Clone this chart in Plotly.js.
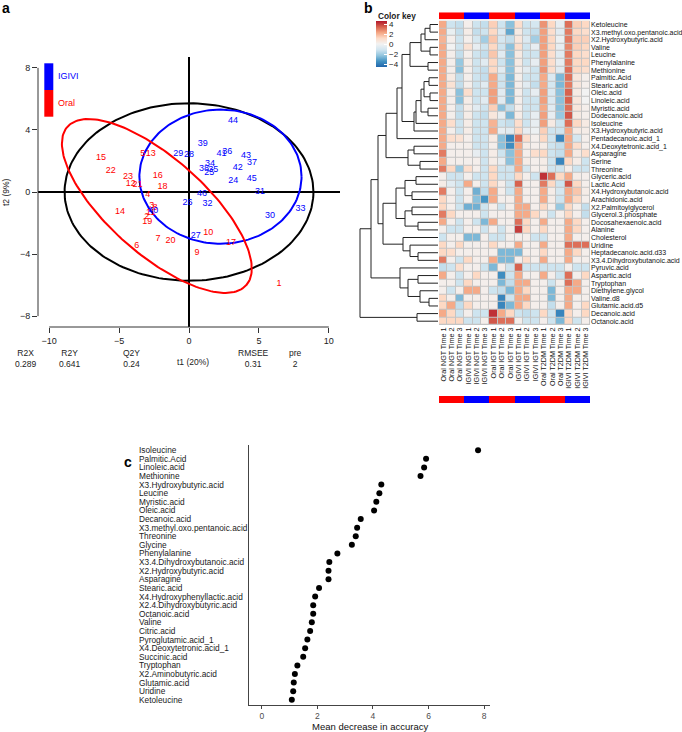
<!DOCTYPE html>
<html>
<head>
<meta charset="utf-8">
<script src="https://cdn.plot.ly/plotly-3.0.1.min.js"></script>
<style>html,body{margin:0;padding:0;background:#fff}#plot{width:682px;height:732px}</style>
</head>
<body>
<div id="plot"></div>
<script>
// ---------- Panel a data ----------
const igiviLabels = ['24','25','26','27','28','29','30','31','32','33','34','35','36','37','38','39','40','41','42','43','44','45','46'];
const igiviT1 = [3.17,1.45,-0.10,0.48,0.00,-0.76,5.79,5.07,1.33,7.98,1.50,1.74,2.74,4.50,1.07,0.98,-2.55,2.33,3.48,4.07,3.14,4.48,0.93];
const igiviT2 = [0.73,1.23,-0.71,-2.80,2.40,2.47,-1.50,0.04,-0.73,-1.08,1.83,1.44,2.58,1.89,1.50,3.10,-1.20,2.47,1.57,2.34,4.60,0.86,-0.09];
const oralLabels = ['1','2','3','4','5','6','7','8','9','10','11','12','13','14','15','16','17','18','19','20','21','22','23'];
const oralT1 = [6.43,-3.02,-2.66,-2.95,-3.31,-3.74,-2.21,-2.43,0.57,1.38,-2.74,-4.17,-2.74,-4.93,-6.29,-2.24,3.00,-1.90,-2.98,-1.33,-3.69,-5.60,-4.36];
const oralT2 = [-5.92,-1.61,-0.88,-0.17,2.47,-3.46,-3.01,-1.03,-3.90,-2.60,-1.35,0.52,2.47,-1.29,2.19,1.07,-3.25,0.32,-1.94,-3.14,0.44,1.39,0.99];
// ellipses: centre and semi-axis vectors (all groups, IGIVI, Oral)
const ellName = ['all','IGIVI','Oral'];
const ellCx = [0, 2.25, -2.30];
const ellCy = [0, 0.99, -0.90];
const ellUx = [8.9, 5.8, 6.40];
const ellUy = [0, 0, -5.10];
const ellVx = [0, 0, -2.27];
const ellVy = [5.72, 4.32, -2.32];
const ellColor = ['#000000','#0000ff','#ff0000'];
const statNames = ['R2X','R2Y','Q2Y','RMSEE','pre'];
const statValues = ['0.289','0.641','0.24','0.31','2'];

// ---------- Panel b data ----------
const rowNames = ['Ketoleucine','X3.methyl.oxo.pentanoic.acid','X2.Hydroxybutyric.acid','Valine','Leucine','Phenylalanine','Methionine','Palmitic.Acid','Stearic.acid','Oleic.acid','Linoleic.acid','Myristic.acid','Dodecanoic.acid','Isoleucine','X3.Hydroxybutyric.acid','Pentadecanoic.acid_1','X4.Deoxytetronic.acid_1','Asparagine','Serine','Threonine','Glyceric.acid','Lactic.Acid','X4.Hydroxybutanoic.acid','Arachidonic.acid','X2.Palmitoylglycerol','Glycerol.3.phosphate','Docosahexaenoic.acid','Alanine','Cholesterol','Uridine','Heptadecanoic.acid.d33','X3.4.Dihydroxybutanoic.acid','Pyruvic.acid','Aspartic.acid','Tryptophan','Diethylene.glycol','Valine.d8','Glutamic.acid.d5','Decanoic.acid','Octanoic.acid'];
const colNames = ['Oral NGT Time 1','Oral NGT Time 2','Oral NGT Time 3','IGIVI NGT Time 1','IGIVI NGT Time 2','IGIVI NGT Time 3','Oral IGT Time 1','Oral IGT Time 2','Oral IGT Time 3','IGIVI IGT Time 1','IGIVI IGT Time 2','IGIVI IGT Time 3','Oral T2DM Time 1','Oral T2DM Time 2','Oral T2DM Time 3','IGIVI T2DM Time 1','IGIVI T2DM Time 2','IGIVI T2DM Time 3'];
const colGroup = ['Oral','Oral','Oral','IGIVI','IGIVI','IGIVI','Oral','Oral','Oral','IGIVI','IGIVI','IGIVI','Oral','Oral','Oral','IGIVI','IGIVI','IGIVI'];
const zValues = [
[2.2,-1.2,-1.4,0.2,-1.2,-1.4,1.4,-1.2,-2.4,1.0,-1.2,-1.0,2.6,1.2,-0.4,3.2,1.4,1.2],
[2.2,-0.3,-1.4,0.3,-1.4,-1.2,1.2,-0.8,-3.0,0.4,-1.2,-1.4,2.4,1.0,-0.6,3.0,1.2,1.0],
[2.0,0.2,-1.2,0.2,-1.0,-2.0,1.6,-1.0,-1.4,0.6,-0.8,-2.0,2.4,1.2,-0.2,3.0,1.4,1.4],
[2.2,0.0,-1.2,0.8,-0.4,-1.2,1.2,-1.2,-2.4,1.0,-1.2,-0.4,2.4,1.2,-0.4,2.8,1.4,1.2],
[2.2,0.2,-1.4,0.2,-1.2,-1.4,1.6,-0.6,-2.4,0.4,-1.2,-1.2,2.4,1.0,-0.6,3.0,1.2,1.0],
[2.2,0.2,-2.2,0.3,-1.2,-0.6,1.2,-1.2,-2.4,0.4,-1.2,-0.4,2.4,1.0,-0.4,3.0,1.2,1.2],
[2.2,0.2,-2.4,0.2,-1.2,-1.4,1.2,-0.6,-2.4,0.2,-0.6,-1.2,2.6,1.0,-0.6,3.2,1.2,1.0],
[2.2,0.4,-1.4,0.2,-1.2,-1.4,2.2,-1.2,-2.6,0.2,-1.2,-1.2,2.2,-0.8,-2.6,3.2,0.6,0.2],
[2.2,0.8,-1.4,0.2,-1.2,-0.6,2.2,-1.2,-2.6,0.2,-0.6,-1.4,2.2,-1.0,-2.6,3.0,0.6,0.2],
[2.2,0.2,-2.4,1.0,-1.2,-1.2,2.4,-0.6,-2.6,0.2,-1.2,-0.4,2.4,-0.8,-2.4,3.4,0.4,0.0],
[2.2,0.2,-2.4,0.3,-1.2,-0.6,2.4,-0.6,-2.6,0.2,-1.2,-1.2,2.4,-0.8,-2.4,3.4,0.6,0.0],
[2.2,0.2,-1.4,0.3,-0.6,-1.2,1.4,-2.4,-1.4,0.2,-1.2,-1.2,2.2,-0.6,-2.4,3.2,0.6,0.2],
[2.2,0.2,-1.4,0.3,-1.2,-1.4,0.6,-0.4,-2.6,0.3,-1.2,-0.4,2.4,-0.4,-2.2,3.6,0.4,0.2],
[2.2,1.0,-1.2,0.3,-1.2,-1.2,2.0,-1.2,-1.4,1.0,-1.2,-0.4,2.4,0.4,-1.2,3.2,1.2,0.4],
[2.2,0.2,-1.2,0.3,-1.2,-1.2,2.2,-0.4,-0.6,1.2,-0.4,-0.2,1.4,-1.2,-1.2,2.2,0.4,0.3],
[2.2,1.0,0.8,0.2,-1.2,-1.2,0.4,-2.4,-3.8,3.2,1.0,0.2,1.2,-1.2,-3.8,2.2,-1.0,0.2],
[2.2,0.2,0.2,0.2,-1.2,-1.2,0.2,-2.4,-3.6,2.2,0.3,0.2,0.3,-1.2,-1.4,2.2,1.0,0.2],
[3.0,0.2,0.2,0.2,-0.4,-1.2,0.3,-1.2,-2.4,2.2,0.2,1.0,1.2,-1.2,-1.4,2.2,0.4,1.0],
[2.2,0.2,0.2,0.2,0.2,-1.2,0.3,-0.4,-2.4,2.2,0.3,0.2,0.3,-1.2,-3.8,1.2,0.3,-1.2],
[3.0,1.2,-2.2,1.0,0.2,-1.2,1.2,-1.2,-1.2,2.2,-1.0,0.2,0.3,-1.2,-1.2,0.3,-1.2,-1.2],
[0.2,-1.2,-1.2,0.2,-1.2,-1.2,1.2,-1.2,-1.2,1.2,0.2,-1.2,4.2,3.2,1.2,2.2,0.3,0.2],
[0.3,-0.6,-1.2,2.2,0.2,-1.2,1.2,0.2,-1.2,3.4,0.2,0.2,3.0,1.2,-1.2,3.6,1.2,0.2],
[3.0,0.2,-1.2,0.2,-2.8,-1.4,2.2,0.2,-1.2,2.2,0.2,0.2,2.2,0.3,-1.0,2.2,1.6,0.3],
[1.2,0.2,-1.2,0.2,-2.4,-3.4,2.2,0.2,0.2,2.2,0.2,0.2,2.2,0.3,-1.2,2.2,1.2,0.2],
[1.2,0.2,-1.2,-2.8,-2.8,-1.2,0.2,-1.2,0.2,2.2,2.2,0.2,1.2,0.2,-2.2,1.2,0.2,-1.4],
[3.0,1.2,0.2,0.2,0.2,-1.2,0.2,0.2,0.2,2.2,2.2,1.2,0.3,-1.2,0.2,1.2,0.2,-1.4],
[2.2,0.2,-1.2,0.2,-1.2,-2.6,2.2,0.2,0.2,3.2,1.2,0.2,2.2,0.2,0.2,2.2,1.2,0.2],
[0.2,-1.2,-1.2,0.2,0.2,-1.2,0.2,-1.2,0.2,4.0,1.2,0.2,1.2,0.2,0.2,2.2,1.2,0.2],
[-1.2,0.2,0.2,-2.6,-2.6,0.2,-1.2,-1.2,0.2,0.2,0.2,-1.2,-1.2,0.2,0.2,2.2,0.2,0.2],
[1.2,0.2,1.2,0.2,0.2,0.2,1.2,0.2,0.2,2.2,0.2,0.2,2.2,0.2,0.2,3.2,3.2,3.2],
[1.2,1.0,0.2,0.2,0.2,0.2,0.2,-2.6,-2.6,-2.6,0.2,0.2,1.2,0.2,0.2,2.2,1.2,0.2],
[3.0,0.2,-1.2,1.2,0.2,0.2,2.2,-2.6,-2.6,0.2,1.0,0.2,2.2,0.2,0.2,2.2,0.2,0.2],
[-1.4,-1.2,1.0,0.2,0.2,-1.2,-2.6,0.2,-1.2,3.4,-1.2,-1.2,-1.2,-1.2,-1.2,0.2,-1.2,-1.2],
[2.2,0.2,-1.2,0.2,1.2,0.2,0.2,-3.6,-1.2,2.2,0.2,0.2,2.2,0.2,-1.2,3.2,0.2,1.2],
[0.2,0.2,-1.2,1.2,0.2,0.2,0.2,-2.6,-1.4,2.2,2.2,0.2,0.2,-1.2,0.2,3.2,2.2,0.2],
[0.2,-1.2,0.2,2.2,2.2,0.2,-1.2,-1.4,-2.6,2.2,1.2,0.2,0.2,-2.6,0.2,2.2,2.2,0.2],
[1.2,0.2,-2.6,0.2,0.2,0.2,0.2,-3.8,-1.2,2.2,2.2,0.2,0.2,-2.6,0.2,2.2,0.2,0.2],
[1.2,2.2,-1.4,1.2,0.2,0.2,0.2,-3.8,-2.6,2.2,1.2,0.2,0.2,-1.4,0.2,2.2,0.2,1.2],
[2.2,1.2,-1.2,0.2,-1.2,-1.2,4.2,2.2,1.2,-1.2,-1.4,-1.2,1.2,-1.2,-3.8,1.2,0.2,1.2],
[1.2,1.2,1.2,-1.2,-1.2,0.2,3.6,3.2,3.2,0.2,-1.2,-1.2,0.2,-1.2,-2.6,1.2,-1.2,0.2]
];
// row dendrogram, hclust-style merges (negative = row, positive = earlier merge)
const mergeA = [-1,1,-4,2,-6,4,-8,-10,7,-12,9,11,12,6,14,-17,-19,16,15,-21,-23,20,-25,-27,23,22,-31,-30,-29,26,19,-34,-37,-36,32,-33,31,-39,37];
const mergeB = [-2,-3,-5,3,-7,5,-9,-11,8,-13,10,-14,-15,13,-16,-18,-20,17,18,-22,-24,21,-26,-28,24,25,-32,27,28,29,30,-35,-38,33,34,35,36,-40,38];
const mergeH = [8,13,8,17,10,28,9,8,14,10,17,22,24,36,41,24,18,30,52,22,26,33,26,20,33,42,20,28,35,55,60,20,9,18,30,38,67,21,78];

// ---------- Panel c data ----------
const rfNames = ['Isoleucine','Palmitic.Acid','Linoleic.acid','Methionine','X3.Hydroxybutyric.acid','Leucine','Myristic.acid','Oleic.acid','Decanoic.acid','X3.methyl.oxo.pentanoic.acid','Threonine','Glycine','Phenylalanine','X3.4.Dihydroxybutanoic.acid','X2.Hydroxybutyric.acid','Asparagine','Stearic.acid','X4.Hydroxyphenyllactic.acid','X2.4.Dihydroxybutyric.acid','Octanoic.acid','Valine','Citric.acid','Pyroglutamic.acid_1','X4.Deoxytetronic.acid_1','Succinic.acid','Tryptophan','X2.Aminobutyric.acid','Glutamic.acid','Uridine','Ketoleucine'];
const rfMDA = [7.78,5.91,5.84,5.71,4.30,4.23,4.12,4.04,3.56,3.43,3.38,3.24,2.72,2.43,2.40,2.40,2.06,1.92,1.85,1.85,1.80,1.74,1.64,1.56,1.49,1.28,1.19,1.15,1.13,1.08];

// ---------- layout helpers ----------
const W = 682, H = 732;
const px = x => x / W;
const py = y => 1 - y / H;
const FONT = 'Liberation Sans, Arial, sans-serif';

const traces = [];
const shapes = [];
const annotations = [];

// ===== Panel a =====
for (let k = 0; k < ellName.length; k++) {
  const xs = [], ys = [];
  for (let i = 0; i <= 180; i++) {
    const t = 2 * Math.PI * i / 180;
    xs.push(ellCx[k] + ellUx[k] * Math.cos(t) + ellVx[k] * Math.sin(t));
    ys.push(ellCy[k] + ellUy[k] * Math.cos(t) + ellVy[k] * Math.sin(t));
  }
  traces.push({type:'scatter', mode:'lines', x:xs, y:ys, xaxis:'x', yaxis:'y',
    line:{color:ellColor[k], width:2}, hoverinfo:'skip', showlegend:false});
}
traces.push({type:'scatter', mode:'text', x:oralT1, y:oralT2, text:oralLabels, xaxis:'x', yaxis:'y',
  textfont:{family:FONT, size:9, color:'#ff0000'}, cliponaxis:false, showlegend:false});
traces.push({type:'scatter', mode:'text', x:igiviT1, y:igiviT2, text:igiviLabels, xaxis:'x', yaxis:'y',
  textfont:{family:FONT, size:9, color:'#0000ff'}, cliponaxis:false, showlegend:false});

// R-style detached axis lines
shapes.push({type:'line', xref:'x', yref:'y domain', x0:-10, x1:10, y0:0, y1:0, line:{color:'#333', width:1}});
shapes.push({type:'line', xref:'x domain', yref:'y', x0:0, x1:0, y0:-8, y1:8, line:{color:'#333', width:1}});
// legend boxes
shapes.push({type:'rect', xref:'paper', yref:'paper', x0:px(44.3), x1:px(53.3), y0:py(90), y1:py(63.3), fillcolor:'#0000ff', line:{width:0}});
shapes.push({type:'rect', xref:'paper', yref:'paper', x0:px(44.3), x1:px(53.3), y0:py(116.7), y1:py(90), fillcolor:'#ff0000', line:{width:0}});
annotations.push({xref:'paper', yref:'paper', x:px(56), y:py(76), xanchor:'left', yanchor:'middle', showarrow:false,
  text:ellName[1], font:{family:FONT, size:9, color:'#0000ff'}});
annotations.push({xref:'paper', yref:'paper', x:px(56), y:py(103), xanchor:'left', yanchor:'middle', showarrow:false,
  text:ellName[2], font:{family:FONT, size:9, color:'#ff0000'}});
// bottom statistics
const statX = [26, 70, 131, 253, 295];
for (let i = 0; i < statNames.length; i++) {
  annotations.push({xref:'paper', yref:'paper', x:px(statX[i]), y:py(358), xanchor:'center', yanchor:'middle', showarrow:false,
    text:statNames[i] + '<br>' + statValues[i], font:{family:FONT, size:8.5, color:'#222'}});
}
annotations.push({xref:'paper', yref:'paper', x:px(193), y:py(362), xanchor:'center', yanchor:'middle', showarrow:false,
  text:'t1 (20%)', font:{family:FONT, size:8.5, color:'#222'}});
annotations.push({xref:'paper', yref:'paper', x:px(6), y:py(192), xanchor:'center', yanchor:'middle', showarrow:false, textangle:-90,
  text:'t2 (9%)', font:{family:FONT, size:8.5, color:'#222'}});

// ===== Panel b =====
const nR = rowNames.length, nC = colNames.length;
const rowIdx = rowNames.map((_, i) => i);
const colIdx = colNames.map((_, i) => i);
shapes.push({type:'rect', xref:'x2 domain', yref:'y2 domain', x0:0, x1:1, y0:0, y1:1, fillcolor:'#c4c4c4', line:{width:0}, layer:'below'});
traces.push({type:'heatmap', z:zValues, x:colIdx, y:rowIdx, xaxis:'x2', yaxis:'y2', xgap:1, ygap:1,
  zmin:-4.6, zmax:4.6,
  colorscale:[[0,'#2166AC'],[0.125,'#4393C3'],[0.25,'#92C5DE'],[0.375,'#D1E5F0'],[0.5,'#F2F2F2'],[0.625,'#FDDBC7'],[0.75,'#F4A582'],[0.875,'#D6604D'],[1,'#B2182B']],
  colorbar:{x:px(375.7), xanchor:'left', y:py(21), yanchor:'top', len:46, lenmode:'pixels', thickness:11, thicknessmode:'pixels',
    xpad:0, ypad:0, outlinewidth:0, ticks:'inside', ticklen:3, tickcolor:'#ffffff', tickvals:[-4,-2,0,2,4],
    tickfont:{family:FONT, size:8, color:'#222'}},
  hoverinfo:'skip'});
const groupCode = colGroup.map(g => g === 'Oral' ? 0 : 1);
const barScale = [[0,'#ff0000'],[0.5,'#ff0000'],[0.5,'#0000ff'],[1,'#0000ff']];
traces.push({type:'heatmap', z:[groupCode], x:colIdx, y:[0], xaxis:'x2', yaxis:'y3', zmin:0, zmax:1, colorscale:barScale, showscale:false, hoverinfo:'skip'});
traces.push({type:'heatmap', z:[groupCode], x:colIdx, y:[0], xaxis:'x2', yaxis:'y4', zmin:0, zmax:1, colorscale:barScale, showscale:false, hoverinfo:'skip'});
annotations.push({xref:'paper', yref:'paper', x:px(376.5), y:py(16), xanchor:'left', yanchor:'middle', showarrow:false,
  text:'<b>Color key</b>', font:{family:FONT, size:8.3, color:'#222'}});

// dendrogram
const clusterY = [];
const yOf = id => id < 0 ? (-id - 1) : clusterY[id - 1];
const hOf = id => id < 0 ? 0 : mergeH[id - 1];
const dx = [], dy = [];
for (let i = 0; i < mergeA.length; i++) {
  const a = mergeA[i], b = mergeB[i], h = mergeH[i];
  const ya = yOf(a), yb = yOf(b);
  clusterY.push((ya + yb) / 2);
  dx.push(hOf(a), h, h, hOf(b), null);
  dy.push(ya, ya, yb, yb, null);
}
traces.push({type:'scatter', mode:'lines', x:dx, y:dy, xaxis:'x4', yaxis:'y2', line:{color:'#222', width:1}, hoverinfo:'skip', showlegend:false});

// ===== Panel c =====
const rfPos = rfNames.map((_, i) => i + 1);
traces.push({type:'scatter', mode:'markers', x:rfMDA, y:rfPos, xaxis:'x3', yaxis:'y5',
  marker:{color:'#000', size:6}, showlegend:false, hoverinfo:'skip'});
for (let i = 0; i < rfNames.length; i++) {
  annotations.push({xref:'paper', yref:'y5', x:px(137), y:rfPos[i], xanchor:'left', yanchor:'middle', showarrow:false,
    text:rfNames[i], font:{family:FONT, size:8.3, color:'#1a1a1a'}});
}
annotations.push({xref:'paper', yref:'paper', x:px(369.5), y:py(726), xanchor:'center', yanchor:'middle', showarrow:false,
  text:'Mean decrease in accuracy', font:{family:FONT, size:9.5, color:'#111'}});

// panel letters
annotations.push({xref:'paper', yref:'paper', x:px(0), y:py(8), xanchor:'left', yanchor:'middle', showarrow:false, text:'<b>a</b>', font:{family:FONT, size:14, color:'#000'}});
annotations.push({xref:'paper', yref:'paper', x:px(362), y:py(8), xanchor:'left', yanchor:'middle', showarrow:false, text:'<b>b</b>', font:{family:FONT, size:14, color:'#000'}});
annotations.push({xref:'paper', yref:'paper', x:px(122), y:py(462), xanchor:'left', yanchor:'middle', showarrow:false, text:'<b>c</b>', font:{family:FONT, size:14, color:'#000'}});

const hidden = {showgrid:false, zeroline:false, showline:false, showticklabels:false, ticks:'', fixedrange:true};

const layout = {
  width: W, height: H, margin:{l:0, r:0, t:0, b:0}, paper_bgcolor:'#fff', plot_bgcolor:'rgba(0,0,0,0)',
  showlegend:false, font:{family:FONT, color:'#222'},
  xaxis:{domain:[px(38), px(340)], range:[-10.8, 10.8], anchor:'y', showgrid:false, showline:false,
    zeroline:true, zerolinecolor:'#000', zerolinewidth:2, tickvals:[-10,-5,0,5,10], ticks:'outside', ticklen:5, tickcolor:'#333',
    tickfont:{family:FONT, size:9, color:'#222'}},
  yaxis:{domain:[py(327), py(57)], range:[-8.7, 8.7], anchor:'x', showgrid:false, showline:false,
    zeroline:true, zerolinecolor:'#000', zerolinewidth:2, tickvals:[-8,-4,0,4,8], ticks:'outside', ticklen:5, tickcolor:'#333',
    tickfont:{family:FONT, size:9, color:'#222'}},
  xaxis2:{domain:[px(439), px(590)], range:[-0.5, nC - 0.5], anchor:'y2', showgrid:false, zeroline:false, showline:false,
    tickvals:colIdx, ticktext:colNames, tickangle:-90, ticks:'', tickfont:{family:FONT, size:7.2, color:'#111'}},
  yaxis2:{domain:[py(325), py(20.7)], range:[nR - 0.5, -0.5], anchor:'x2', side:'right', showgrid:false, zeroline:false, showline:false,
    tickvals:rowIdx, ticktext:rowNames, ticks:'', tickfont:{family:FONT, size:7, color:'#111'}},
  yaxis3:Object.assign({}, hidden, {domain:[py(19.3), py(12.3)], anchor:'x2', range:[-0.5,0.5]}),
  yaxis4:Object.assign({}, hidden, {domain:[py(403), py(396)], anchor:'x2', range:[-0.5,0.5]}),
  xaxis4:Object.assign({}, hidden, {domain:[px(358), px(438)], anchor:'y2', range:[80, 0]}),
  xaxis3:{domain:[px(249), px(490)], range:[-0.46, 8.21], anchor:'y5', showgrid:false, zeroline:false,
    showline:true, linecolor:'#444', linewidth:1, tickvals:[0,2,4,6,8], ticks:'outside', ticklen:3, tickcolor:'#444',
    tickfont:{family:FONT, size:8.5, color:'#4d4d4d'}},
  yaxis5:{domain:[py(705), py(445)], range:[30.6, 0.4], anchor:'x3', showgrid:false, zeroline:false,
    showline:true, linecolor:'#444', linewidth:1, showticklabels:false, ticks:''},
  shapes: shapes,
  annotations: annotations
};

Plotly.newPlot('plot', traces, layout, {staticPlot:true, displayModeBar:false});
</script>
</body>
</html>
